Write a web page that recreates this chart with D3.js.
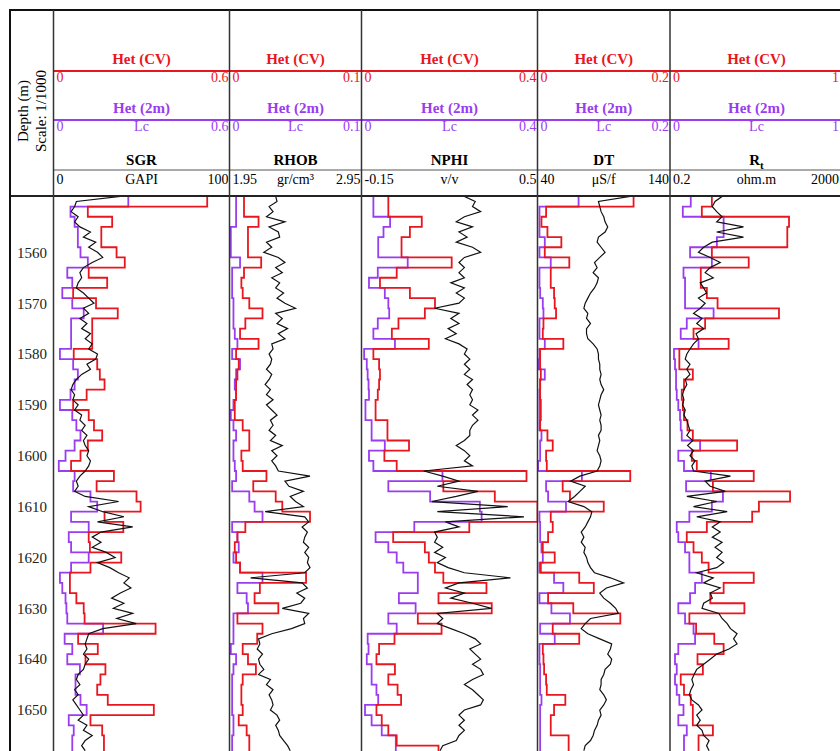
<!DOCTYPE html>
<html>
<head>
<meta charset="utf-8">
<script src="https://cdn.jsdelivr.net/npm/d3@7"></script>
<style>
body { margin: 0; background: #fff; }
text { font-family: "Liberation Serif", "Times New Roman", serif; }
</style>
</head>
<body>
<svg id="well" width="840" height="751"></svg>
<script>
// depth sampling: heterogeneity logs are 2 m blocks, raw logs 1 m samples
var blockTops  = d3.range(1549, 1659, 2);
var logDepths  = d3.range(1549, 1659);
var depthTicks = [1560, 1570, 1580, 1590, 1600, 1610, 1620, 1630, 1640, 1650];

// SGR
var sgrLog = [38,13,12,10,14,12,15,21,17,24, 20,25,28,22,17,15,16,14,13,17,
              20,23,17,20,15,19,16,21,18,22, 20,25,24,19,21,16,13,11,10,12,
              11,14,12,16,15,18,16,19,17,18, 20,19,21,20,18,15,13,14,12,18,
              37,20,28,40,25,45,27,22,27,22, 30,35,25,32,37,43,40,44,38,33,
              40,34,45,36,47,28,20,19,18,19, 17,20,18,17,14,13,15,12,14,11,
              13,15,17,14,19,17,22,18,16,18];
var sgrHetCV = [0.524,0.117,0.200,0.163,0.163,0.215,0.243,0.120,0.183,0.067,0.145,0.219,0.132,0.132,0.132,0.069,0.149,0.158,0.174,0.113,
                0.067,0.120,0.138,0.166,0.117,0.092,0.060,0.206,0.147,0.283,0.297,0.174,0.238,0.120,0.124,0.231,0.126,0.056,0.056,0.078,
                0.103,0.106,0.348,0.084,0.151,0.109,0.177,0.160,0.149,0.185,0.342,0.126,0.166,0.172,0.172];
var sgrHet2m = [0.255,0.058,0.072,0.083,0.083,0.092,0.117,0.047,0.064,0.030,0.064,0.103,0.060,0.060,0.060,0.022,0.067,0.083,0.072,0.058,
                0.022,0.064,0.078,0.092,0.072,0.041,0.018,0.072,0.067,0.126,0.149,0.060,0.120,0.052,0.060,0.120,0.060,0.022,0.030,0.041,
                0.044,0.047,0.169,0.038,0.064,0.047,0.090,0.075,0.075,0.092,0.113,0.052,0.069,0.064,0.064];

// RHOB
var rhobLog = [2.30,2.31,2.25,2.28,2.23,2.37,2.25,2.32,2.33,2.23, 2.27,2.21,2.32,2.37,2.30,2.35,2.27,2.33,2.30,2.36,
               2.31,2.37,2.45,2.30,2.35,2.31,2.39,2.32,2.37,2.27, 2.28,2.25,2.27,2.26,2.23,2.27,2.25,2.22,2.26,2.23,
               2.28,2.23,2.27,2.31,2.26,2.28,2.25,2.30,2.26,2.35, 2.27,2.31,2.27,2.30,2.32,2.56,2.37,2.40,2.51,2.41,
               2.45,2.51,2.22,2.52,2.55,2.50,2.54,2.52,2.51,2.55, 2.52,2.55,2.54,2.56,2.52,2.11,2.50,2.54,2.46,2.52,
               2.49,2.35,2.55,2.51,2.52,2.42,2.27,2.17,2.18,2.16, 2.20,2.17,2.18,2.21,2.17,2.26,2.23,2.28,2.25,2.27,
               2.28,2.26,2.31,2.33,2.30,2.32,2.33,2.36,2.39,2.41];
var rhobHetCV = [0.011,0.011,0.022,0.014,0.014,0.014,0.024,0.011,0.009,0.010,0.015,0.025,0.012,0.008,0.022,0.005,0.007,0.006,0.005,0.005,
                 0.004,0.004,0.010,0.015,0.015,0.009,0.010,0.028,0.018,0.035,0.040,0.061,0.012,0.006,0.004,0.005,0.008,0.058,0.023,0.019,
                 0.037,0.006,0.025,0.021,0.010,0.014,0.020,0.010,0.009,0.009,0.010,0.007,0.013,0.015,0.015];
var rhobHet2m = [0.005,0.005,0.005,0.001,0.001,0.001,0.008,0.002,0.002,0.002,0.003,0.003,0.003,0.004,0.006,0.002,0.008,0.005,0.004,0.005,
                 0.003,0.001,0.003,0.005,0.003,0.003,0.004,0.005,0.002,0.015,0.019,0.025,0.002,0.006,0.007,0.003,0.008,0.025,0.006,0.013,
                 0.014,0.003,0.003,0.003,0.001,0.005,0.003,0.002,0.002,0.002,0.002,0.003,0.003,0.002,0.002];

// NPHI
var nphiLog = [0.23,0.27,0.26,0.29,0.23,0.20,0.26,0.21,0.24,0.20, 0.26,0.29,0.23,0.21,0.23,0.21,0.23,0.18,0.23,0.20,
               0.23,0.21,0.12,0.21,0.18,0.21,0.17,0.20,0.16,0.21, 0.24,0.23,0.25,0.23,0.25,0.23,0.26,0.24,0.26,0.25,
               0.26,0.25,0.28,0.26,0.28,0.26,0.25,0.25,0.23,0.20, 0.23,0.25,0.23,0.26,0.08,0.15,0.21,0.13,0.28,0.20,
               0.11,0.39,0.13,0.45,0.16,0.21,0.12,0.13,0.12,0.15, 0.12,0.16,0.13,0.17,0.23,0.40,0.21,0.16,0.23,0.18,
               0.26,0.33,0.13,0.15,0.13,0.18,0.23,0.27,0.29,0.25, 0.27,0.29,0.26,0.29,0.30,0.26,0.23,0.26,0.28,0.30,
               0.29,0.23,0.21,0.23,0.21,0.23,0.21,0.20,0.15,0.14];
var nphiHetCV = [0.061,0.061,0.137,0.110,0.091,0.091,0.205,0.080,0.042,0.110,0.167,0.144,0.084,0.069,0.153,0.027,0.040,0.042,0.040,0.037,
                 0.032,0.032,0.059,0.059,0.108,0.052,0.080,0.375,0.186,0.303,0.400,0.400,0.245,0.072,0.144,0.153,0.167,0.186,0.284,0.175,
                 0.296,0.128,0.182,0.075,0.040,0.034,0.076,0.061,0.082,0.090,0.034,0.046,0.061,0.080,0.175];
var nphiHet2m = [0.027,0.027,0.065,0.050,0.038,0.038,0.105,0.037,0.017,0.053,0.061,0.063,0.037,0.027,0.076,0.006,0.012,0.014,0.016,0.017,
                 0.009,0.009,0.023,0.023,0.053,0.017,0.027,0.184,0.061,0.156,0.269,0.273,0.120,0.032,0.061,0.080,0.095,0.128,0.128,0.085,
                 0.123,0.061,0.080,0.014,0.016,0.012,0.023,0.023,0.034,0.038,0.008,0.023,0.046,0.078,0.078];

// DT
var dtLog = [110,86,87,88,90,91,93,91,86,85, 88,91,87,83,85,82,86,85,83,80,
             78,76,75,78,77,80,77,77,78,82, 85,86,86,87,87,88,87,88,90,88,
             87,86,87,88,87,88,88,86,87,86, 85,87,88,87,85,72,65,76,72,68,
             63,75,81,80,78,76,73,75,73,76, 75,77,78,80,83,95,105,92,87,90,
             95,99,101,80,76,73,78,87,96,95, 93,96,95,91,90,88,88,87,90,92,
             90,87,88,86,85,83,82,80,76,75];
var dtHetCV = [0.145,0.013,0.006,0.015,0.036,0.011,0.048,0.020,0.020,0.025,0.026,0.028,0.009,0.008,0.039,0.004,0.004,0.005,0.004,0.004,
               0.005,0.005,0.004,0.015,0.023,0.013,0.014,0.140,0.038,0.049,0.100,0.020,0.023,0.016,0.008,0.026,0.005,0.063,0.085,0.016,
               0.054,0.125,0.023,0.063,0.008,0.009,0.010,0.013,0.014,0.042,0.025,0.020,0.020,0.047,0.047];
var dtHet2m = [0.062,0.003,0.003,0.003,0.011,0.003,0.020,0.003,0.003,0.004,0.008,0.009,0.003,0.003,0.011,0.003,0.002,0.011,0.004,0.003,
               0.003,0.003,0.003,0.006,0.004,0.004,0.001,0.067,0.013,0.016,0.043,0.003,0.004,0.004,0.006,0.008,0.003,0.025,0.039,0.003,
               0.021,0.049,0.004,0.026,0.003,0.003,0.004,0.004,0.004,0.006,0.004,0.004,0.004,0.004,0.004];

// Rt
var rtLog = [3.2,2.2,1.9,2.4,3.2,2.4,10,2.4,10,1.9, 1.2,0.91,1.7,2.9,1.7,1.3,2.0,1.0,1.2,1.4,
             0.91,1.3,1.0,0.70,1.1,0.83,1.2,0.80,0.91,0.70, 0.58,0.49,0.45,0.58,0.49,0.58,0.45,0.49,0.42,0.39,
             0.42,0.39,0.45,0.42,0.49,0.53,0.58,0.49,0.67,0.51, 0.70,0.58,0.76,0.64,0.70,5.0,1.3,1.7,3.8,0.49,
             2.4,0.70,4.2,0.83,2.9,1.9,2.9,1.9,3.2,2.2, 3.2,2.4,3.5,2.4,0.83,2.0,1.2,2.9,1.7,1.9,
             1.2,1.1,2.7,3.2,4.2,5.0,7.1,5.9,7.1,4.6, 2.4,1.7,1.2,0.83,0.72,0.64,0.70,0.61,0.56,0.64,
             0.91,1.1,0.83,1.0,0.83,1.1,1.2,1.6,1.4,1.6];
var rtHetCV = [0.242,0.184,0.688,0.678,0.678,0.242,0.455,0.178,0.178,0.213,0.275,0.630,0.203,0.136,0.339,0.054,0.054,0.132,0.081,0.068,
               0.074,0.081,0.101,0.132,0.388,0.126,0.155,0.484,0.248,0.694,0.514,0.475,0.213,0.097,0.136,0.184,0.223,0.484,0.310,0.233,
               0.430,0.112,0.151,0.256,0.310,0.159,0.190,0.062,0.081,0.120,0.132,0.132,0.248,0.165,0.165];
var rtHet2m = [0.120,0.074,0.310,0.310,0.271,0.116,0.242,0.078,0.087,0.087,0.087,0.252,0.097,0.062,0.165,0.023,0.029,0.035,0.035,0.039,
               0.048,0.058,0.062,0.068,0.174,0.048,0.081,0.236,0.093,0.306,0.242,0.112,0.039,0.048,0.087,0.112,0.112,0.184,0.145,0.116,
               0.048,0.087,0.136,0.145,0.048,0.029,0.039,0.029,0.039,0.054,0.078,0.048,0.097,0.081,0.081];

var trackNames = ["SGR", "RHOB", "NPHI", "DT", "R"];
var trackUnits = ["GAPI", "gr/cm³", "v/v", "μS/f", "ohm.m"];
var logMin     = ["0", "1.95", "-0.15", "40", "0.2"];
var logMax     = ["100", "2.95", "0.5", "140", "2000"];
var hetMax     = [0.6, 0.1, 0.4, 0.2, 1];
var logs       = [sgrLog, rhobLog, nphiLog, dtLog, rtLog];
var hetCV      = [sgrHetCV, rhobHetCV, nphiHetCV, dtHetCV, rtHetCV];
var het2m      = [sgrHet2m, rhobHet2m, nphiHet2m, dtHet2m, rtHet2m];

// layout
var edges   = [53.5, 229.5, 361.5, 537.5, 670, 843];
var RED     = "#e8161e";
var PURPLE  = "#9a3cf0";
var headTop = 10, headBot = 196;

var svg = d3.select("#well");

var y = d3.scaleLinear().domain([1549, 1659]).range([196.4, 755.8]);

function blocks(vals) {
    var pts = blockTops.map(function(t, i) { return [t, vals[i]]; });
    pts.push([blockTops[blockTops.length - 1] + 2, vals[vals.length - 1]]);
    return pts;
}

var defs = svg.append("defs");

trackNames.forEach(function(name, k) {

    var left = edges[k], right = edges[k + 1], mid = (left + right) / 2;
    var textRight = Math.min(right - 1, 839);

    var xHet = d3.scaleLinear().domain([0, hetMax[k]]).range([left, right]);
    var xLog;
    if (k === 4) xLog = d3.scaleLog().domain([0.2, 2000]).range([left, right]);
    else xLog = d3.scaleLinear().domain([+logMin[k], +logMax[k]]).range([left, right]);

    defs.append("clipPath").attr("id", "clip" + k)
        .append("rect").attr("x", left).attr("y", headBot).attr("width", right - left).attr("height", 751 - headBot);

    var g = svg.append("g").attr("clip-path", "url(#clip" + k + ")");

    var sl = d3.line().curve(d3.curveStepBefore)
        .x(function(d) { return xHet(d[1]); })
        .y(function(d) { return y(d[0]); });

    g.append("path").attr("d", sl(blocks(het2m[k])))
        .attr("fill", "none").attr("stroke", PURPLE).attr("stroke-width", 1.8);
    g.append("path").attr("d", sl(blocks(hetCV[k])))
        .attr("fill", "none").attr("stroke", RED).attr("stroke-width", 1.8);

    var ll = d3.line()
        .x(function(d) { return xLog(d[1]); })
        .y(function(d) { return y(d[0]); });

    g.append("path").attr("d", ll(logDepths.map(function(d, i) { return [d, logs[k][i]]; })))
        .attr("fill", "none").attr("stroke", "#111").attr("stroke-width", 1.2);

    // header
    var h = svg.append("g");
    h.append("text").attr("x", mid).attr("y", 64).attr("text-anchor", "middle")
        .attr("fill", RED).attr("font-weight", "bold").attr("font-size", 15).text("Het (CV)");
    h.append("text").attr("x", left + 3).attr("y", 82).attr("fill", RED).attr("font-size", 14).text("0");
    h.append("text").attr("x", textRight).attr("y", 82).attr("text-anchor", "end")
        .attr("fill", RED).attr("font-size", 14).text(hetMax[k]);

    h.append("text").attr("x", mid).attr("y", 113).attr("text-anchor", "middle")
        .attr("fill", PURPLE).attr("font-weight", "bold").attr("font-size", 15).text("Het (2m)");
    h.append("text").attr("x", left + 3).attr("y", 131).attr("fill", PURPLE).attr("font-size", 14).text("0");
    h.append("text").attr("x", mid).attr("y", 131).attr("text-anchor", "middle")
        .attr("fill", PURPLE).attr("font-size", 14).text("Lc");
    h.append("text").attr("x", textRight).attr("y", 131).attr("text-anchor", "end")
        .attr("fill", PURPLE).attr("font-size", 14).text(hetMax[k]);

    var title = h.append("text").attr("x", mid).attr("y", 165).attr("text-anchor", "middle")
        .attr("font-weight", "bold").attr("font-size", 15).text(name);
    if (k === 4) title.append("tspan").attr("dy", 4).attr("font-size", 11).text("t");

    h.append("text").attr("x", left + 3).attr("y", 184).attr("font-size", 14).text(logMin[k]);
    h.append("text").attr("x", mid).attr("y", 184).attr("text-anchor", "middle").attr("font-size", 14).text(trackUnits[k]);
    h.append("text").attr("x", textRight).attr("y", 184).attr("text-anchor", "end").attr("font-size", 14).text(logMax[k]);
});

// header rules
svg.append("line").attr("x1", edges[0]).attr("x2", 840).attr("y1", 71).attr("y2", 71).attr("stroke", RED).attr("stroke-width", 2);
svg.append("line").attr("x1", edges[0]).attr("x2", 840).attr("y1", 120).attr("y2", 120).attr("stroke", PURPLE).attr("stroke-width", 2);
svg.append("line").attr("x1", edges[0]).attr("x2", 840).attr("y1", 170).attr("y2", 170).attr("stroke", "#555").attr("stroke-width", 1);
svg.append("line").attr("x1", 10).attr("x2", 840).attr("y1", headBot).attr("y2", headBot).attr("stroke", "#222").attr("stroke-width", 2);
svg.append("line").attr("x1", 9).attr("x2", 840).attr("y1", headTop).attr("y2", headTop).attr("stroke", "#111").attr("stroke-width", 2);
svg.append("line").attr("x1", 10).attr("x2", 10).attr("y1", headTop).attr("y2", 751).attr("stroke", "#111").attr("stroke-width", 2);

edges.slice(0, 5).forEach(function(e) {
    svg.append("line").attr("x1", e).attr("x2", e).attr("y1", headTop).attr("y2", 751)
        .attr("stroke", "#333").attr("stroke-width", 1.5);
});

// depth column
var depthAxis = d3.axisLeft(y).tickValues(depthTicks).tickSize(0).tickPadding(3).tickFormat(d3.format("d"));
var ax = svg.append("g").attr("transform", "translate(50,0)").call(depthAxis);
ax.select(".domain").remove();
ax.selectAll("text").attr("font-size", 15).attr("fill", "#222")
    .style("font-family", "'Liberation Serif','Times New Roman',serif");

var lab = svg.append("g").attr("transform", "translate(0,111)");
lab.append("text").attr("transform", "translate(28,0) rotate(-90)").attr("text-anchor", "middle")
    .attr("font-size", 15).text("Depth (m)");
lab.append("text").attr("transform", "translate(46,0) rotate(-90)").attr("text-anchor", "middle")
    .attr("font-size", 15).text("Scale: 1/1000");
</script>
</body>
</html>
